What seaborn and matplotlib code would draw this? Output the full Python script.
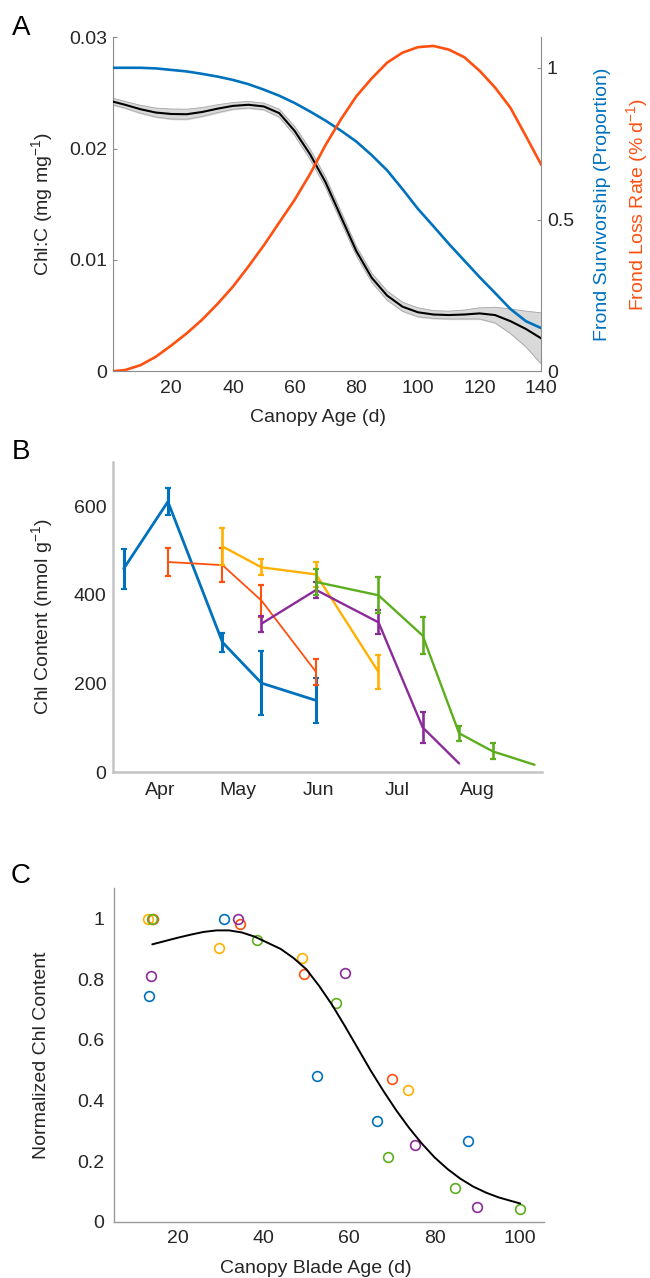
import numpy as np
import pandas as pd
import matplotlib
matplotlib.use('Agg')
import matplotlib.pyplot as plt
import matplotlib.dates as mdates
import seaborn as sns

# ---------------- Panel A data ----------------
canopy_age = [1, 5, 10, 15, 20, 25, 30, 35, 40, 45, 50, 55, 60, 65, 70, 75, 80,
              85, 90, 95, 100, 105, 110, 115, 120, 125, 130, 135, 140]
chl_c = [0.02424, 0.02395, 0.02355, 0.02325, 0.02312, 0.02310, 0.02330, 0.02360,
         0.02385, 0.02395, 0.02380, 0.02320, 0.02160, 0.01950, 0.01700, 0.01390,
         0.01080, 0.00840, 0.00680, 0.00580, 0.00530, 0.00510, 0.00505, 0.00510,
         0.00520, 0.00505, 0.00450, 0.00380, 0.00295]
chl_c_ci = [0.0003, 0.0003, 0.00035, 0.0004, 0.00045, 0.00045, 0.0004, 0.00035,
            0.0003, 0.0003, 0.0003, 0.00035, 0.0004, 0.00045, 0.00045, 0.00045,
            0.0004, 0.0004, 0.0004, 0.0004, 0.0004, 0.00035, 0.00035, 0.0004,
            0.0005, 0.0007, 0.0011, 0.0016, 0.0023]
survivorship = [1.0, 1.0, 1.0, 0.998, 0.993, 0.988, 0.980, 0.971, 0.960, 0.946,
                0.928, 0.908, 0.884, 0.856, 0.826, 0.793, 0.757, 0.712, 0.662,
                0.600, 0.535, 0.478, 0.420, 0.365, 0.310, 0.258, 0.205, 0.165, 0.142]
loss_rate = [0.0, 0.004, 0.020, 0.048, 0.085, 0.125, 0.170, 0.222, 0.279, 0.345,
             0.415, 0.490, 0.565, 0.650, 0.745, 0.830, 0.906, 0.965, 1.017, 1.050,
             1.068, 1.072, 1.060, 1.035, 0.990, 0.935, 0.868, 0.775, 0.680]

# ---------------- Panel B data ----------------
cohorts = ['c1', 'c2', 'c3', 'c4', 'c5']
cohort_colors = ['#0072BD', '#FF5010', '#FFB000', '#8B2A98', '#5DAE1E']
b_dates = {
    'c1': ['2017-03-18', '2017-04-04', '2017-04-25', '2017-05-10', '2017-05-31'],
    'c2': ['2017-04-04', '2017-04-25', '2017-05-10', '2017-05-31'],
    'c3': ['2017-04-25', '2017-05-10', '2017-05-31', '2017-06-24'],
    'c4': ['2017-05-10', '2017-05-31', '2017-06-24', '2017-07-11', '2017-07-25'],
    'c5': ['2017-05-31', '2017-06-24', '2017-07-11', '2017-07-25', '2017-08-07', '2017-08-23'],
}
b_chl = {
    'c1': [459, 610, 293, 201, 162],
    'c2': [474, 467, 387, 226],
    'c3': [509, 462, 446, 226],
    'c4': [335, 411, 338, 101, 20],
    'c5': [429, 399, 308, 88, 47, 17],
}
b_err = {
    'c1': [45, 30, 21, 72, 51],
    'c2': [32, 39, 36, 29],
    'c3': [42, 18, 28, 38],
    'c4': [18, 19, 27, 36, np.nan],
    'c5': [29, 41, 42, 17, 18, np.nan],
}
b_width = {'c1': 2.0, 'c2': 1.3, 'c3': 1.7, 'c4': 1.7, 'c5': 1.7}

# ---------------- Panel C data ----------------
c_age = {
    'c1': [13.3, 30.8, 52.4, 66.6, 87.7],
    'c2': [14.1, 34.4, 49.4, 70.1],
    'c3': [13.0, 29.7, 48.9, 73.7],
    'c4': [13.7, 34.1, 59.0, 75.4, 89.8],
    'c5': [14.0, 38.4, 57.0, 69.2, 84.8, 100.0],
}
c_norm = {
    'c1': [0.746, 1.0, 0.480, 0.332, 0.266],
    'c2': [1.0, 0.981, 0.816, 0.470],
    'c3': [1.0, 0.902, 0.869, 0.434],
    'c4': [0.809, 1.0, 0.819, 0.253, 0.047],
    'c5': [1.0, 0.931, 0.720, 0.212, 0.112, 0.041],
}
fit_age = [14, 17, 20, 23, 26, 29, 32, 35, 38, 41, 44, 47, 50, 53, 56, 59, 62, 65,
           68, 71, 74, 77, 80, 83, 86, 89, 92, 95, 98, 100]
fit_norm = [0.915, 0.926, 0.937, 0.947, 0.956, 0.961, 0.961, 0.954, 0.940, 0.920,
            0.900, 0.870, 0.833, 0.778, 0.716, 0.646, 0.573, 0.500, 0.432, 0.368,
            0.310, 0.258, 0.212, 0.174, 0.142, 0.116, 0.096, 0.080, 0.068, 0.060]

# ---------------- style ----------------
sns.set_style('white')
plt.rcParams['font.family'] = ['Liberation Sans', 'DejaVu Sans']
plt.rcParams['mathtext.fontset'] = 'custom'
plt.rcParams['mathtext.rm'] = 'Liberation Sans'
plt.rcParams['mathtext.it'] = 'Liberation Sans:italic'
txt = '#262626'
fs = 14

fig = plt.figure(figsize=(6.5, 12.78), dpi=100)

def style_axis(ax, spine_col, spine_w, pad_x, pad_y, tick_len=3):
    for s in ['top', 'right']:
        ax.spines[s].set_visible(False)
    for s in ['left', 'bottom']:
        ax.spines[s].set_color(spine_col)
        ax.spines[s].set_linewidth(spine_w)
    ax.tick_params(direction='in', length=tick_len, width=0.8, color=spine_col,
                   labelsize=fs, labelcolor=txt)
    ax.tick_params(axis='x', pad=pad_x)
    ax.tick_params(axis='y', pad=pad_y)

# ---------------- Panel A ----------------
axA = fig.add_axes([0.1734, 0.7095, 0.6594, 0.2612])
lo = np.array(chl_c) - np.array(chl_c_ci)
hi = np.array(chl_c) + np.array(chl_c_ci)
axA.fill_between(canopy_age, lo, hi, color='#d9d9d9', zorder=1)
axA.plot(canopy_age, lo, color='#a8a8a8', lw=0.6, zorder=2)
axA.plot(canopy_age, hi, color='#a8a8a8', lw=0.6, zorder=2)
sns.lineplot(x=canopy_age, y=chl_c, ax=axA, color='black', linewidth=1.5, zorder=3)
axA.set_xlim(1, 140)
axA.set_ylim(0, 0.03)
axA.set_xticks([20, 40, 60, 80, 100, 120, 140])
axA.set_yticks([0, 0.01, 0.02, 0.03])
axA.set_yticklabels(['0', '0.01', '0.02', '0.03'])
style_axis(axA, '#8c8c8c', 0.8, 6, 4)
axA.set_xlabel('Canopy Age (d)', fontsize=fs, color=txt)
axA.set_ylabel(r'Chl:C (mg mg$^{-1}$)', fontsize=fs, color=txt)
axA.xaxis.set_label_coords(0.478, -0.14)
axA.xaxis.label.set_va('center')
axA.yaxis.set_label_coords(-0.166, 0.5)
axA.yaxis.label.set_va('center')

axA2 = axA.twinx()
sns.lineplot(x=canopy_age, y=survivorship, ax=axA2, color='#0072BD', linewidth=1.9)
sns.lineplot(x=canopy_age, y=loss_rate, ax=axA2, color='#FF5010', linewidth=1.9)
axA2.set_ylim(0, 1.1)
axA2.set_yticks([0, 0.5, 1])
axA2.set_yticklabels(['0', '0.5', '1'])
axA2.set_ylabel('')
for s in ['top', 'left', 'bottom']:
    axA2.spines[s].set_visible(False)
axA2.spines['right'].set_color('#8c8c8c')
axA2.spines['right'].set_linewidth(0.8)
axA2.tick_params(direction='in', length=3, width=0.8, color='#8c8c8c',
                 labelsize=fs, labelcolor=txt, pad=4)
axA2.text(1.1416, 0.5, 'Frond Survivorship (Proportion)', transform=axA2.transAxes,
          rotation=90, ha='center', va='center', fontsize=fs, color='#0072BD')
axA2.text(1.2225, 0.5, r'Frond Loss Rate (% d$^{-1}$)', transform=axA2.transAxes,
          rotation=90, ha='center', va='center', fontsize=fs, color='#FF5010')

# ---------------- Panel B ----------------
axB = fig.add_axes([0.1743, 0.3957, 0.66, 0.2430])
for name, col in zip(cohorts, cohort_colors):
    d = pd.to_datetime(b_dates[name])
    sns.lineplot(x=d, y=b_chl[name], ax=axB, color=col, linewidth=b_width[name])
    axB.errorbar(d, b_chl[name], yerr=b_err[name], fmt='none', ecolor=col,
                 elinewidth=b_width[name] + 0.2, capsize=2.5, capthick=1.6)
axB.set_xlim(pd.Timestamp('2017-03-14'), pd.Timestamp('2017-08-26'))
axB.set_ylim(0, 700)
axB.set_yticks([0, 200, 400, 600])
axB.xaxis.set_major_locator(mdates.MonthLocator(bymonth=[4, 5, 6, 7, 8]))
axB.xaxis.set_major_formatter(mdates.DateFormatter('%b'))
style_axis(axB, '#c4c4c4', 1.8, 7, 5, tick_len=2.5)
axB.set_xlabel('')
axB.set_ylabel(r'Chl Content (nmol g$^{-1}$)', fontsize=fs, color=txt)
axB.yaxis.set_label_coords(-0.167, 0.5)
axB.yaxis.label.set_va('center')

# ---------------- Panel C ----------------
axC = fig.add_axes([0.175, 0.04405, 0.6615, 0.2609])
for name, col in zip(cohorts, cohort_colors):
    sns.lineplot(x=c_age[name], y=c_norm[name], ax=axC, linestyle='none', marker='o',
                 markersize=7, markerfacecolor='none', markeredgecolor=col,
                 markeredgewidth=1.2, color=col)
sns.lineplot(x=fit_age, y=fit_norm, ax=axC, color='black', linewidth=1.4)
axC.set_xlim(5, 105.5)
axC.set_ylim(0, 1.1)
axC.set_xticks([20, 40, 60, 80, 100])
axC.set_yticks([0, 0.2, 0.4, 0.6, 0.8, 1])
axC.set_yticklabels(['0', '0.2', '0.4', '0.6', '0.8', '1'])
style_axis(axC, '#9a9a9a', 1.0, 6, 7, tick_len=3.5)
axC.set_xlabel('Canopy Blade Age (d)', fontsize=fs, color=txt)
axC.set_ylabel('Normalized Chl Content', fontsize=fs, color=txt)
axC.xaxis.set_label_coords(0.471, -0.139)
axC.xaxis.label.set_va('center')
axC.yaxis.set_label_coords(-0.168, 0.5)
axC.yaxis.label.set_va('center')

# panel letters
for letter, ypx in [('A', 28), ('B', 452), ('C', 876)]:
    fig.text(21 / 650, 1 - ypx / 1278, letter, fontsize=20, color='black',
             ha='center', va='center')

fig.savefig('out.png', dpi=100)
